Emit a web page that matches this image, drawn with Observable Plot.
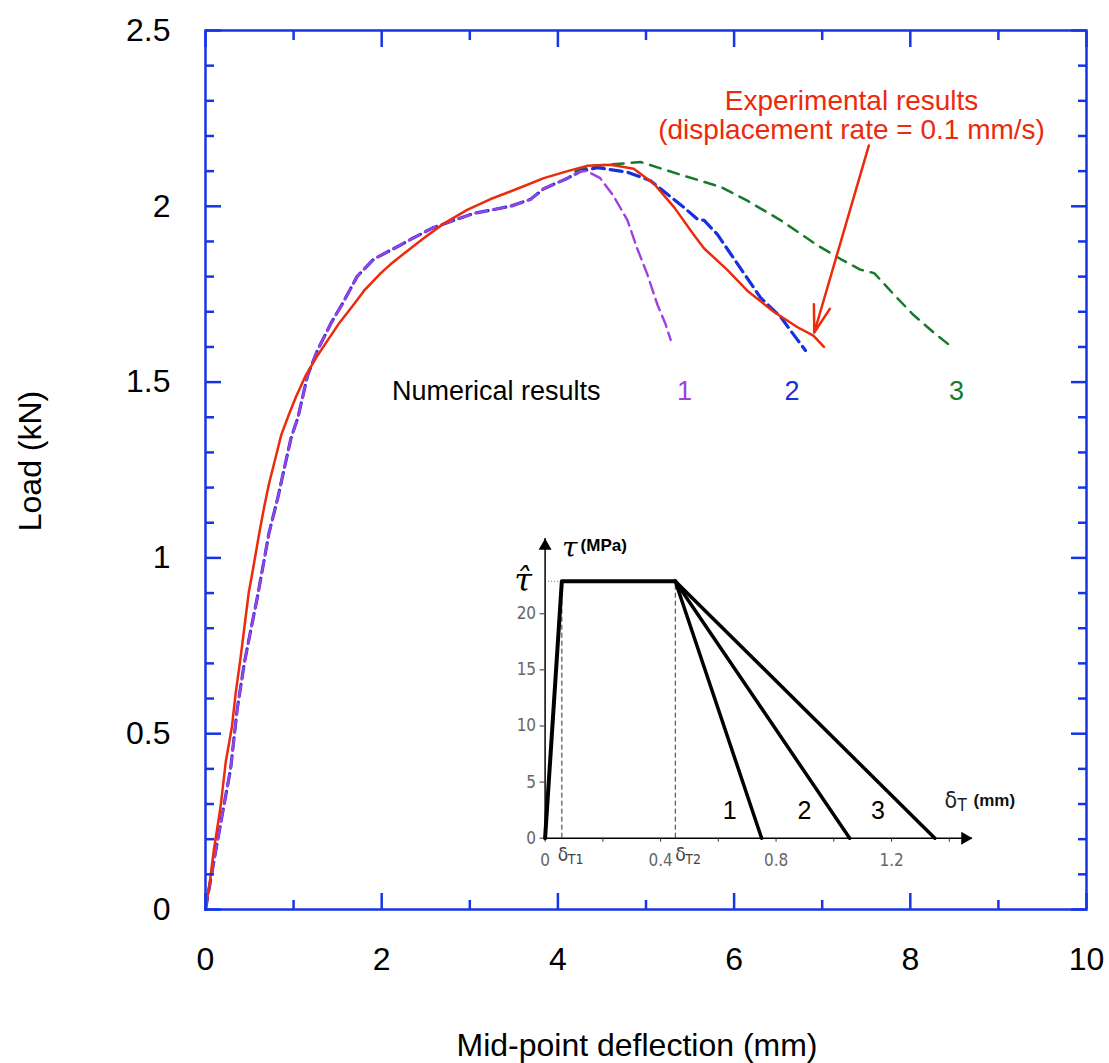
<!DOCTYPE html>
<html><head><meta charset="utf-8">
<script src="https://cdn.jsdelivr.net/npm/d3@7"></script>
<script src="https://cdn.jsdelivr.net/npm/@observablehq/plot@0.6"></script>
<style>
html,body{margin:0;padding:0;background:#fff;}
#wrap{position:relative;width:1109px;height:1063px;overflow:hidden;background:#fff;}
#main{position:absolute;left:0;top:0;}
#inset{position:absolute;left:480px;top:520px;}
</style></head>
<body><div id="wrap"><div id="main"></div><div id="inset"></div></div>
<script>
// ---------------- data (main chart) ----------------
const experimentalX = [0, 0.05, 0.095, 0.17, 0.23, 0.30, 0.34, 0.40, 0.44, 0.49, 0.53, 0.61, 0.67, 0.72, 0.80, 0.86, 0.95, 1.03, 1.14, 1.27, 1.39, 1.51, 1.65, 1.80, 1.99, 2.10, 2.25, 2.48, 2.70, 2.97, 3.23, 3.54, 3.84, 4.11, 4.33, 4.60, 4.86, 5.09, 5.32, 5.54, 5.66, 5.92, 6.15, 6.45, 6.72, 6.90, 7.02];
const experimentalY = [0, 0.08, 0.17, 0.29, 0.42, 0.52, 0.61, 0.72, 0.80, 0.90, 0.955, 1.07, 1.15, 1.21, 1.29, 1.35, 1.41, 1.46, 1.52, 1.575, 1.62, 1.665, 1.71, 1.76, 1.81, 1.835, 1.865, 1.91, 1.95, 1.99, 2.02, 2.05, 2.08, 2.10, 2.115, 2.118, 2.107, 2.064, 1.997, 1.92, 1.88, 1.82, 1.76, 1.70, 1.656, 1.632, 1.60];

// shared pre-peak part of the numerical curves
const numericalRiseX = [0, 0.076, 0.19, 0.285, 0.36, 0.44, 0.51, 0.59, 0.67, 0.72, 0.82, 0.89, 0.97, 1.05, 1.16, 1.27, 1.43, 1.57, 1.72, 1.91, 2.14, 2.36, 2.59, 2.82, 3.05, 3.46, 3.69, 3.84, 4.11, 4.26];
const numericalRiseY = [0, 0.11, 0.27, 0.40, 0.57, 0.70, 0.79, 0.89, 1.0, 1.07, 1.17, 1.25, 1.34, 1.40, 1.52, 1.59, 1.67, 1.73, 1.80, 1.85, 1.88, 1.91, 1.94, 1.96, 1.98, 2.00, 2.02, 2.05, 2.08, 2.10];

const law1X = [4.33, 4.48, 4.63, 4.79, 4.90, 5.01, 5.13, 5.22, 5.28];
const law1Y = [2.10, 2.08, 2.03, 1.96, 1.88, 1.81, 1.72, 1.666, 1.62];
const law2X = [4.45, 4.79, 5.05, 5.24, 5.43, 5.58, 5.66, 5.81, 5.96, 6.11, 6.30, 6.53, 6.64, 6.72, 6.81];
const law2Y = [2.11, 2.097, 2.073, 2.035, 1.997, 1.964, 1.96, 1.92, 1.865, 1.81, 1.74, 1.685, 1.647, 1.62, 1.59];
const law3X = [4.20, 4.40, 4.94, 5.39, 5.85, 6.15, 6.53, 6.94, 7.21, 7.43, 7.59, 7.81, 8.04, 8.27, 8.47];
const law3Y = [2.10, 2.115, 2.126, 2.09, 2.055, 2.016, 1.96, 1.89, 1.85, 1.82, 1.81, 1.75, 1.69, 1.64, 1.60];

const xTickLabels = [0, 2, 4, 6, 8, 10];
const xMinorTicks = [1, 3, 5, 7, 9];
const yTickLabels = [0, 0.5, 1, 1.5, 2, 2.5];
const yMinorTicks = [0.1, 0.2, 0.3, 0.4, 0.6, 0.7, 0.8, 0.9, 1.1, 1.2, 1.3, 1.4, 1.6, 1.7, 1.8, 1.9, 2.1, 2.2, 2.3, 2.4];

// ---------------- data (inset: traction-separation laws) ----------------
const insetRampX = [0, 0.058, 0.451];      // delta_T (mm)
const insetRampY = [0, 22.9, 22.9];        // tau (MPa)
const insetLaws = ["1", "2", "3"];
const insetLawEnds = [0.75, 1.055, 1.35];  // delta_T where tau reaches 0
const insetXTicks = [0, 0.2, 0.4, 0.6, 0.8, 1.0, 1.2, 1.4];
const insetXTickLabels = [0, 0.4, 0.8, 1.2];
const insetYTicks = [0, 5, 10, 15, 20];

// ---------------- tables ----------------
const pts = (xs, ys) => xs.map((x, i) => ({x, y: ys[i]}));
const experimental = pts(experimentalX, experimentalY);
const rise = pts(numericalRiseX, numericalRiseY);
const law1 = rise.concat(pts(law1X, law1Y));
const law2 = rise.concat(pts(law2X, law2Y));
const law3 = pts(law3X, law3Y);

const RED = "#ec2a0c", FRAME = "#1636e6", BLUE = "#1530e0", PURPLE = "#a040e0", GREEN = "#157a2c";
const FONT = "'Liberation Sans', Arial, Helvetica, sans-serif";

const main = Plot.plot({
  width: 1109, height: 1063,
  marginLeft: 205, marginRight: 23, marginTop: 30, marginBottom: 154,
  x: {domain: [0, 10]},
  y: {domain: [0, 2.5]},
  style: {fontFamily: FONT, background: "white", color: "black", overflow: "visible"},
  marks: [
    Plot.line(law3, {x: "x", y: "y", stroke: GREEN, strokeWidth: 2.5, strokeDasharray: "11,8"}),
    Plot.line(law2, {x: "x", y: "y", stroke: BLUE, strokeWidth: 3.2, strokeDasharray: "12,6"}),
    Plot.line(law1, {x: "x", y: "y", stroke: PURPLE, strokeWidth: 2.4, strokeDasharray: "12,6", strokeDashoffset: 1}),
    Plot.line(experimental, {x: "x", y: "y", stroke: RED, strokeWidth: 2.5}),
    Plot.arrow([{x1: 7.53, y1: 2.173, x2: 6.91, y2: 1.641}], {x1: "x1", y1: "y1", x2: "x2", y2: "y2", stroke: RED, strokeWidth: 2.5, headLength: 17, headAngle: 34}),
    Plot.frame({stroke: FRAME, strokeWidth: 2.5}),
    // inward ticks on all four sides
    ...["bottom", "top"].flatMap(a => [
      Plot.axisX({anchor: a, ticks: xTickLabels, tickSize: -16, stroke: FRAME, strokeWidth: 2.5, fill: "none", label: null}),
      Plot.axisX({anchor: a, ticks: xMinorTicks, tickSize: -9, stroke: FRAME, strokeWidth: 2.5, fill: "none", label: null})
    ]),
    ...["left", "right"].flatMap(a => [
      Plot.axisY({anchor: a, ticks: yTickLabels, tickSize: -16, stroke: FRAME, strokeWidth: 2.5, fill: "none", label: null}),
      Plot.axisY({anchor: a, ticks: yMinorTicks, tickSize: -9, stroke: FRAME, strokeWidth: 2.5, fill: "none", label: null})
    ]),
    // tick labels
    Plot.axisX({anchor: "bottom", ticks: xTickLabels, tickSize: 0, tickPadding: 38, fontSize: 32, fill: "black", tickFormat: d => String(d), label: null}),
    Plot.axisY({anchor: "left", ticks: yTickLabels, tickSize: 0, tickPadding: 35, fontSize: 32, fill: "black", tickFormat: d => String(d), label: null}),
    // axis titles
    Plot.text(["Mid-point deflection (mm)"], {frameAnchor: "bottom", text: d => d, dy: 136, dx: -9, fontSize: 32, textAnchor: "middle", lineAnchor: "middle"}),
    Plot.text(["Load (kN)"], {frameAnchor: "left", text: d => d, rotate: -90, dx: -175, dy: -9, fontSize: 32, textAnchor: "middle", lineAnchor: "middle"}),
    // annotations
    Plot.text(["Experimental results", "(displacement rate = 0.1 mm/s)"], {x: 7.333, y: (d, i) => i === 0 ? 2.298 : 2.218, text: d => d, fill: RED, fontSize: 28}),
    Plot.text(["Numerical results"], {x: 2.117, y: 1.473, text: d => d, textAnchor: "start", fontSize: 27, fill: "black"}),
    Plot.text(["1", "2", "3"], {x: (d, i) => [5.437, 6.657, 8.524][i], y: 1.473, text: d => d, fontSize: 27, fill: (d, i) => [PURPLE, BLUE, GREEN][i]})
  ]
});
document.getElementById("main").append(main);

// ---------------- inset ----------------
const ramp = pts(insetRampX, insetRampY);
const peakX = insetRampX[2], peakY = insetRampY[2];
const softening = insetLaws.flatMap((law, i) => [{law, x: peakX, y: peakY}, {law, x: insetLawEnds[i], y: 0}]);
const NARROW = "'Liberation Sans Narrow', 'DejaVu Sans Condensed', Arial, sans-serif";
const SERIF = "'DejaVu Serif', 'Liberation Serif', serif";

const inset = Plot.plot({
  width: 600, height: 360,
  marginLeft: 64.6, marginRight: 108.1, marginTop: 18.1, marginBottom: 42.3,
  x: {domain: [0, 1.48]},
  y: {domain: [0, 26.7]},
  style: {fontFamily: FONT, background: "transparent", color: "black", overflow: "visible"},
  marks: [
    // guides
    Plot.ruleX([insetRampX[1], peakX], {y1: 0, y2: peakY, stroke: "#333", strokeWidth: 1, strokeDasharray: "5,3"}),
    Plot.ruleY([peakY], {x1: 0.012, x2: insetRampX[1], stroke: "#666", strokeWidth: 1, strokeDasharray: "1,2"}),
    // axes with arrow heads
    Plot.ruleX([0], {stroke: "black", strokeWidth: 1.5}),
    Plot.ruleY([0], {stroke: "black", strokeWidth: 1.5}),
    Plot.dot([0], {x: 0, frameAnchor: "top", symbol: "triangle", r: 4.8, fill: "black", stroke: null, dy: 7.4}),
    Plot.dot([0], {y: 0, frameAnchor: "right", symbol: "triangle", r: 4.8, fill: "black", stroke: null, rotate: 90, dx: -7.4}),
    Plot.axisX({ticks: insetXTicks, tickSize: 4, stroke: "#333", fill: "none", label: null}),
    Plot.axisX({ticks: insetXTickLabels, tickSize: 0, tickPadding: 16, fontSize: 17, fontFamily: NARROW, fill: "#666", tickFormat: d => String(d), label: null}),
    Plot.axisY({ticks: insetYTicks, tickSize: 5, tickPadding: 4, fontSize: 17, fontFamily: NARROW, stroke: "#333", fill: "#666", tickFormat: d => String(d), label: null}),
    // laws
    Plot.line(softening, {x: "x", y: "y", z: "law", stroke: "black", strokeWidth: 3.5}),
    Plot.line(ramp, {x: "x", y: "y", stroke: "black", strokeWidth: 4}),
    // labels
    Plot.text(insetLaws, {x: (d, i) => [0.639, 0.8985, 1.153][i], y: 2.45, text: d => d, fontSize: 25}),
    Plot.text(["δ"], {x: insetRampX[1], y: 0, dx: -4, dy: 17, text: d => d, textAnchor: "start", fontSize: 19, fontFamily: NARROW, fill: "#444"}),
    Plot.text(["T1"], {x: insetRampX[1], y: 0, dx: 6, dy: 21, text: d => d, textAnchor: "start", fontSize: 14, fontFamily: NARROW, fill: "#444"}),
    Plot.text(["δ"], {x: peakX, y: 0, dx: 0, dy: 17, text: d => d, textAnchor: "start", fontSize: 19, fontFamily: NARROW, fill: "#444"}),
    Plot.text(["T2"], {x: peakX, y: 0, dx: 10, dy: 21, text: d => d, textAnchor: "start", fontSize: 14, fontFamily: NARROW, fill: "#444"}),
    Plot.text(["δ"], {x: 1.383, y: 3.36, text: d => d, textAnchor: "start", fontSize: 23, fontFamily: NARROW, fill: "#222"}),
    Plot.text(["T"], {x: 1.4285, y: 2.9, text: d => d, textAnchor: "start", fontSize: 17, fontFamily: NARROW, fill: "#222"}),
    Plot.text(["(mm)"], {x: 1.484, y: 3.36, text: d => d, textAnchor: "start", fontSize: 17, fontWeight: "bold", fill: "#111"}),
    Plot.text(["τ\u0302"], {x: 0, y: peakY, dx: -22, dy: 0, text: d => d, fontSize: 32, fontStyle: "italic", fontFamily: SERIF}),
    Plot.text(["τ"], {x: 0.085, y: 25.9, text: d => d, fontSize: 28, fontStyle: "italic", fontFamily: SERIF}),
    Plot.text(["(MPa)"], {x: 0.123, y: 26.1, text: d => d, textAnchor: "start", fontSize: 17, fontWeight: "bold"})
  ]
});
document.getElementById("inset").append(inset);
</script>
</body></html>
